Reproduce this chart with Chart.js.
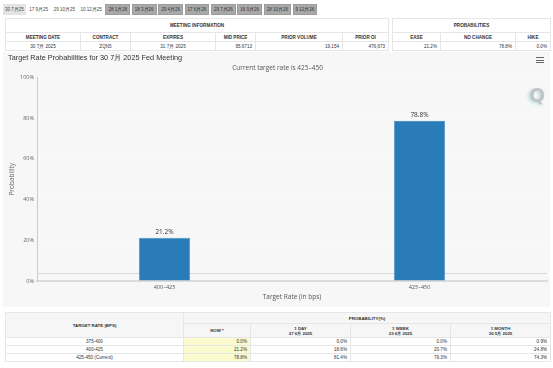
<!DOCTYPE html>
<html>
<head>
<meta charset="utf-8">
<script src="https://cdn.jsdelivr.net/npm/chart.js@4.4.1/dist/chart.umd.min.js"></script>
<style>
body{margin:0;width:553px;height:368px;background:#fff;font-family:"Liberation Sans",Arial,sans-serif;color:#333;overflow:hidden;position:relative}
#tabs{position:absolute;left:3px;top:4px;height:11px;display:flex;gap:1.6px}
.tab{height:11px;line-height:11px;font-size:4.5px;padding:0 2px;color:#444;box-sizing:border-box;white-space:nowrap}
.tab.sel{background:#e4e4e4}
.tab.off{background:#a9a9a9;border:1px solid #9c9c9c;line-height:9px;color:#333}
table{position:absolute;border-collapse:collapse;table-layout:fixed;font-size:4.6px}
td,th{border:1px solid #e6e6e6;padding:0 3px;overflow:hidden;white-space:nowrap}
th{font-weight:bold;color:#333;text-align:center}
td{text-align:right;color:#333}
td.c{text-align:center}
#meet{left:5px;top:18px;width:383px}
#probs{left:392px;top:18px;width:158px}
#meet tr,#probs tr{height:9px}
#meet tr.h0,#probs tr.h0{height:14px}
#wrap{position:absolute;left:3px;top:52px;width:547px;height:255px;background:#f7f7f7}
#menu{position:absolute;left:536px;top:57px;width:8px}
#menu div{height:1px;background:#666;margin-bottom:1.5px}
#logo{position:absolute;left:529px;top:84px;font:bold 19px "DejaVu Sans",sans-serif;color:#c4c4c4;text-shadow:-2px 1px 3px rgba(80,200,190,.35)}
#bottom{left:5px;top:312px;width:545px}
#bottom tr{height:8px}
#bottom tr.h0{height:11px}
#bottom tr.h1{height:14px}
#bottom th{background:#f6f6f6;font-size:4.4px;line-height:5px}
#bottom td.now{background:#fafacc}
</style>
</head>
<body>
<div id="tabs"></div>
<table id="meet"></table>
<table id="probs"></table>
<div id="wrap"><canvas id="chart" width="547" height="255"></canvas></div>
<div id="menu"><div></div><div></div><div></div></div>
<div id="logo">Q</div>
<table id="bottom"></table>
<script>
// meeting tabs
var tabLabels = ['30 7月25','17 9月25','29 10月25','10 12月25','28 1月26','18 3月26','29 4月26','17 6月26','29 7月26','16 9月26','28 10月26','9 12月26'];
var tabState = ['sel','','','','off','off','off','off','off','off','off','off'];

// meeting information / probabilities tables
var meetHeaders = ['MEETING DATE','CONTRACT','EXPIRES','MID PRICE','PRIOR VOLUME','PRIOR OI'];
var meetValues = ['30 7月 2025','ZQN5','31 7月 2025','95.6713','19,154','476,673'];
var probHeaders = ['EASE','NO CHANGE','HIKE'];
var probValues = ['21.2%','78.8%','0.0%'];

// chart data
var rateBuckets = ['400–425','425–450'];
var probabilities = [21.2, 78.8];
var yTicks = [0, 20, 40, 60, 80, 100];
var floorLine = 4;

// bottom table
var targetRates = ['375-400','400-425','425-450 (Current)'];
var periodNames = ['NOW *','1 DAY','1 WEEK','1 MONTH'];
var periodDates = ['','27 6月 2025','23 6月 2025','30 5月 2025'];
var probNow = ['0.0%','21.2%','78.8%'];
var prob1Day = ['0.0%','18.6%','81.4%'];
var prob1Week = ['0.0%','20.7%','79.3%'];
var prob1Month = ['0.9%','24.8%','74.3%'];

var tabs = document.getElementById('tabs');
tabLabels.forEach(function(t, i){
	var d = document.createElement('div');
	d.className = 'tab ' + tabState[i];
	d.textContent = t;
	tabs.appendChild(d);
});

function colgroup(widths){
	return '<colgroup>' + widths.map(function(w){ return '<col style="width:' + w + 'px">'; }).join('') + '</colgroup>';
}

var meet = document.getElementById('meet');
meet.innerHTML = colgroup([75,50,85,40,87,46]) +
	'<tr class="h0"><th colspan="6">MEETING INFORMATION</th></tr>' +
	'<tr>' + meetHeaders.map(function(h){ return '<th>' + h + '</th>'; }).join('') + '</tr>' +
	'<tr>' + meetValues.map(function(v, i){ return '<td' + (i < 3 ? ' class="c"' : '') + '>' + v + '</td>'; }).join('') + '</tr>';

var probs = document.getElementById('probs');
probs.innerHTML = colgroup([48,75,35]) +
	'<tr class="h0"><th colspan="3">PROBABILITIES</th></tr>' +
	'<tr>' + probHeaders.map(function(h){ return '<th>' + h + '</th>'; }).join('') + '</tr>' +
	'<tr>' + probValues.map(function(v){ return '<td>' + v + '</td>'; }).join('') + '</tr>';

var bottom = document.getElementById('bottom');
var html = colgroup([178,67,100,100,100]);
html += '<tr class="h0"><th rowspan="2">TARGET RATE (BPS)</th><th colspan="4">PROBABILITY(%)</th></tr>';
html += '<tr class="h1">' + periodNames.map(function(p, i){
	return '<th>' + p + (periodDates[i] ? '<br>' + periodDates[i] : '') + '</th>';
}).join('') + '</tr>';
for (var r = 0; r < targetRates.length; r++) {
	html += '<tr><td class="c">' + targetRates[r] + '</td><td class="now">' + probNow[r] + '</td><td>' + prob1Day[r] +
		'</td><td>' + prob1Week[r] + '</td><td>' + prob1Month[r] + '</td></tr>';
}
bottom.innerHTML = html;

var floorPlugin = {
	id: 'floorLine',
	beforeDatasetsDraw: function(chart){
		var ctx = chart.ctx, area = chart.chartArea;
		var y = chart.scales.y.getPixelForValue(floorLine);
		ctx.save();
		ctx.strokeStyle = '#d9d9d9';
		ctx.lineWidth = 1;
		ctx.beginPath();
		ctx.moveTo(area.left, Math.round(y) + 0.5);
		ctx.lineTo(area.right, Math.round(y) + 0.5);
		ctx.stroke();
		ctx.restore();
	}
};

var valueLabels = {
	id: 'valueLabels',
	afterDatasetsDraw: function(chart){
		var ctx = chart.ctx;
		var meta = chart.getDatasetMeta(0);
		ctx.save();
		ctx.font = '6.5px "Open Sans"';
		ctx.fillStyle = '#333';
		ctx.textAlign = 'center';
		ctx.textBaseline = 'bottom';
		meta.data.forEach(function(bar, i){
			ctx.fillText(probabilities[i].toFixed(1) + '%', bar.x, bar.y - 2);
		});
		ctx.restore();
	}
};

var ctx = document.getElementById('chart');
var chart = new Chart(ctx, {
	type: 'bar',
	data: {
		labels: rateBuckets,
		datasets: [{
			data: probabilities,
			backgroundColor: '#2a7cb8',
			borderColor: '#3f8cc4',
			borderWidth: 0.6,
			barPercentage: 0.2,
			categoryPercentage: 1
		}]
	},
	options: {
		responsive: false,
		animation: false,
		layout: { padding: { left: 5, right: 3, top: 0, bottom: 6 } },
		plugins: {
			legend: { display: false },
			tooltip: { enabled: false },
			title: {
				display: true,
				text: 'Target Rate Probabilities for 30 7月 2025 Fed Meeting',
				align: 'start',
				color: '#333',
				font: { family: 'Liberation Sans', size: 7.3, weight: 'normal' },
				padding: { top: 2, bottom: 1 }
			},
			subtitle: {
				display: true,
				text: 'Current target rate is 425–450',
				color: '#555',
				font: { family: 'Open Sans', size: 6.5 },
				padding: { top: 0, bottom: 6 }
			}
		},
		scales: {
			x: {
				grid: { display: false, drawTicks: false },
				border: { color: '#dcdcdc', width: 2 },
				ticks: { color: '#555', font: { family: 'Open Sans', size: 5.5 }, padding: 3 },
				title: { display: true, text: 'Target Rate (in bps)', color: '#555', font: { family: 'Open Sans', size: 6.5 }, padding: 0 },
				afterFit: function(axis){ axis.height = 20; }
			},
			y: {
				min: 0,
				max: 100,
				afterBuildTicks: function(axis){ axis.ticks = yTicks.map(function(v){ return { value: v }; }); },
				ticks: { color: '#666', font: { family: 'Open Sans', size: 5.5 }, padding: 3, callback: function(v){ return v + '%'; } },
				grid: { color: '#fafafa', drawTicks: false },
				border: { color: '#cccccc' },
				title: { display: true, text: 'Probability', color: '#666', font: { family: 'Open Sans', size: 6.5 }, padding: 0 },
				afterFit: function(axis){ axis.width = 29; }
			}
		}
	},
	plugins: [floorPlugin, valueLabels]
});
</script>
</body>
</html>
